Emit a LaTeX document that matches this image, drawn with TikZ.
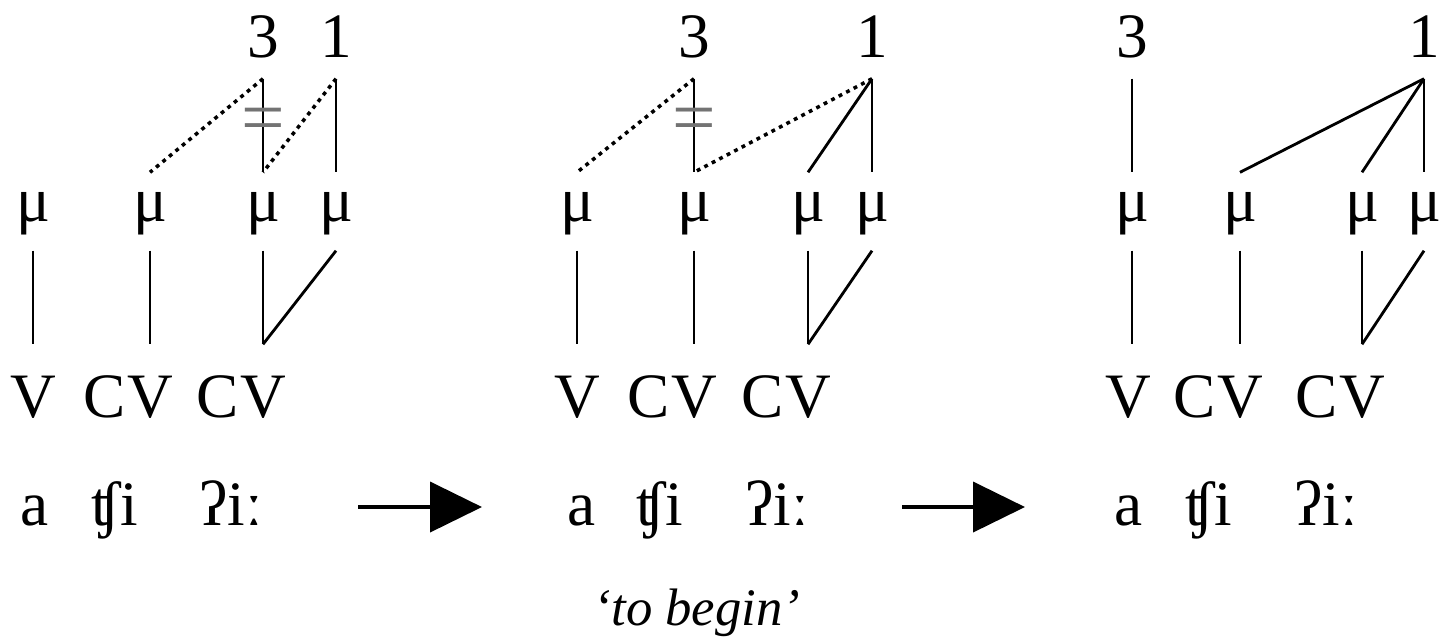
\documentclass[tikz,border=0pt]{standalone}
\usepackage{fontspec}
\setmainfont{Liberation Serif}
\usepackage{tikz}
\usetikzlibrary{positioning,arrows.meta}
\tikzset{
    tone/.style={inner sep=0pt, text depth=2.1mm, anchor=base, font=\fontsize{18}{21}\selectfont},
    mora/.style={inner sep=0pt, text height=4.8mm, text depth=2.9mm, anchor=base, font=\fontsize{18}{21}\selectfont},
    skel/.style={inner sep=0pt, text height=7.2mm, text depth=0pt, anchor=base, font=\fontsize{18}{21}\selectfont},
    seg/.style={inner sep=0pt, anchor=base, font=\fontsize{18}{21}\selectfont},
    assoc/.style={line width=0.8pt},
    spread/.style={line width=1pt, dash pattern=on 1.1pt off 1.3pt},
    delink/.style={inner sep=0pt, text=black!55, font=\fontsize{22}{24}\selectfont},
    rulearrow/.style={-{Triangle[length=5.2mm, width=5mm]}, line width=0.4mm}
}

\begin{document}
\begin{tikzpicture}[x=0.1mm, y=-0.1mm]
\useasboundingbox (0,0) rectangle (1439,636);

% first form
\node[tone] (threeA) at (263,57) {3};
\node[tone] (oneA) at (336,57) {1};
\node[mora] (muA1) at (33,221) {μ};
\node[mora] (muA2) at (150,221) {μ};
\node[mora] (muA3) at (263,221) {μ};
\node[mora] (muA4) at (336,221) {μ};
\node[skel] (vA1) at (33,417) {V};
\node[skel] (vA2) at (150,417) {V};
\node[skel, left=0pt of vA2] (cA2) {C};
\node[skel] (vA3) at (263,417) {V};
\node[skel, left=0pt of vA3] (cA3) {C};
\node[seg] (segA1) at (35,525) {a};
\node[seg] (segA2) at (115,525) {ʧi};
\node[seg] (segA3) at (231,525) {ʔiː};

\draw[assoc] (threeA.south) -- node[delink, pos=.5] (cutA) {=} (muA3.north);
\draw[spread] (threeA.south) -- (muA2.north);
\draw[spread] (oneA.south) -- (muA3.north);
\draw[assoc] (oneA.south) -- (muA4.north);
\draw[assoc] (muA1.south) -- (vA1.north);
\draw[assoc] (muA2.south) -- (vA2.north);
\draw[assoc] (muA3.south) -- (vA3.north);
\draw[assoc] (muA4.south) -- (vA3.north);

% second form
\node[tone] (threeB) at (694,57) {3};
\node[tone] (oneB) at (872,57) {1};
\node[mora] (muB1) at (577,221) {μ};
\node[mora] (muB2) at (694,221) {μ};
\node[mora] (muB3) at (808,221) {μ};
\node[mora] (muB4) at (872,221) {μ};
\node[skel] (vB1) at (577,417) {V};
\node[skel] (vB2) at (694,417) {V};
\node[skel, left=0pt of vB2] (cB2) {C};
\node[skel] (vB3) at (808,417) {V};
\node[skel, left=0pt of vB3] (cB3) {C};
\node[seg] (segB1) at (582,525) {a};
\node[seg] (segB2) at (660,525) {ʧi};
\node[seg] (segB3) at (777,525) {ʔiː};

\draw[assoc] (threeB.south) -- node[delink, pos=.5] (cutB) {=} (muB2.north);
\draw[spread] (threeB.south) -- (muB1.north);
\draw[spread] (oneB.south) -- (muB2.north);
\draw[assoc] (oneB.south) -- (muB3.north);
\draw[assoc] (oneB.south) -- (muB4.north);
\draw[assoc] (muB1.south) -- (vB1.north);
\draw[assoc] (muB2.south) -- (vB2.north);
\draw[assoc] (muB3.south) -- (vB3.north);
\draw[assoc] (muB4.south) -- (vB3.north);

% third form
\node[tone] (threeC) at (1132,57) {3};
\node[tone] (oneC) at (1424,57) {1};
\node[mora] (muC1) at (1132,221) {μ};
\node[mora] (muC2) at (1240,221) {μ};
\node[mora] (muC3) at (1362,221) {μ};
\node[mora] (muC4) at (1424,221) {μ};
\node[skel] (vC1) at (1128,417) {V};
\node[skel] (vC2) at (1240,417) {V};
\node[skel, left=0pt of vC2] (cC2) {C};
\node[skel] (vC3) at (1362,417) {V};
\node[skel, left=0pt of vC3] (cC3) {C};
\node[seg] (segC1) at (1129,525) {a};
\node[seg] (segC2) at (1209,525) {ʧi};
\node[seg] (segC3) at (1326,525) {ʔiː};

\draw[assoc] (threeC.south) -- (muC1.north);
\draw[assoc] (oneC.south) -- (muC2.north);
\draw[assoc] (oneC.south) -- (muC3.north);
\draw[assoc] (oneC.south) -- (muC4.north);
\draw[assoc] (muC1.south) -- (muC1.south |- vC1.north);
\draw[assoc] (muC2.south) -- (vC2.north);
\draw[assoc] (muC3.south) -- (vC3.north);
\draw[assoc] (muC4.south) -- (vC3.north);

% rules and gloss
\coordinate (ruleA1) at (358,507);
\coordinate (ruleA2) at (482,507);
\coordinate (ruleB1) at (902,507);
\coordinate (ruleB2) at (1025,507);
\draw[rulearrow] (ruleA1) -- (ruleA2);
\draw[rulearrow] (ruleB1) -- (ruleB2);
\node[seg, font=\fontsize{15}{18}\selectfont\itshape] (gloss) at (697,625) {‘to begin’};

\end{tikzpicture}
\end{document}
